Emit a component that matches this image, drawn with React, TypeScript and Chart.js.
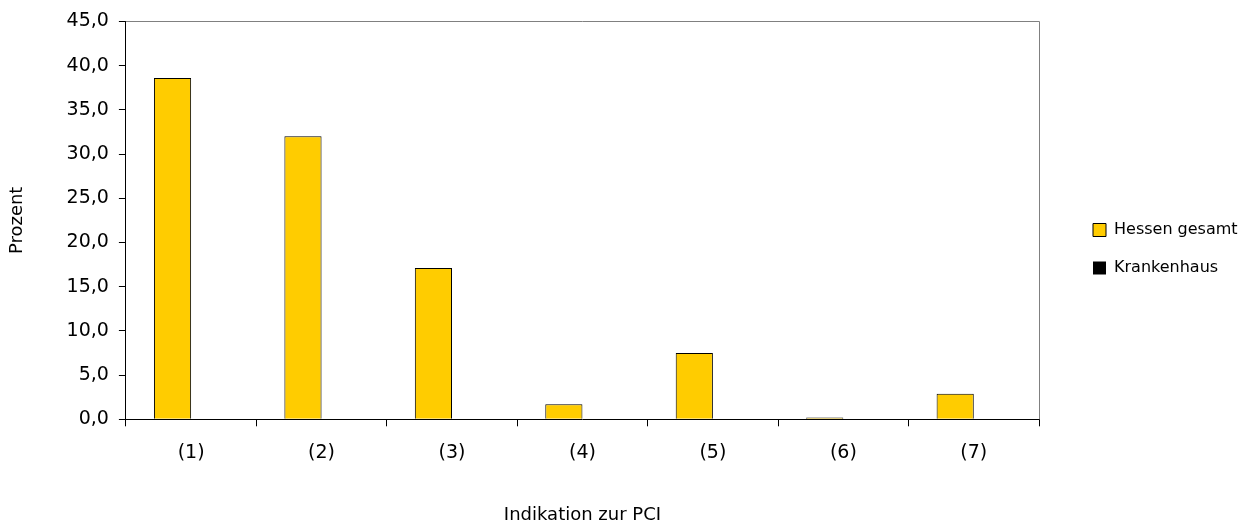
import React, { useEffect, useRef } from 'react';
import { Chart, registerables } from 'chart.js';

Chart.register(...registerables);

const categories = ['(1)', '(2)', '(3)', '(4)', '(5)', '(6)', '(7)'];
const hessenGesamt = [38.6, 32.0, 17.1, 1.7, 7.5, 0.2, 2.9];
const krankenhaus = [0, 0, 0, 0, 0, 0, 0];
const yMin = 0;
const yMax = 45;
const yStep = 5;
const xTitle = 'Indikation zur PCI';
const yTitle = 'Prozent';

const FONT = "'DejaVu Sans', sans-serif";

const legendPlace = {
  id: 'legendPlace',
  beforeInit(chart: any) {
    const legend = chart.legend;
    if (!legend) return;
    const origFit = legend.fit;
    legend.fit = function () {
      origFit.call(this);
      this.width = 213;
    };
  },
  afterLayout(chart: any) {
    const lg = chart.legend;
    if (!lg) return;
    const pad = lg.options.labels.padding;
    const w = lg.width;
    const h = lg.height;
    lg.left = 1093 - pad;
    lg.right = lg.left + w;
    lg.top = 222 - pad;
    lg.bottom = lg.top + h;
  },
};

const frame = {
  id: 'frame',
  beforeDatasetsDraw(chart: any) {
    const { ctx, chartArea } = chart;
    ctx.save();
    ctx.strokeStyle = '#808080';
    ctx.lineWidth = 1;
    ctx.beginPath();
    ctx.moveTo(chartArea.left, Math.round(chartArea.top) + 0.5);
    ctx.lineTo(Math.round(chartArea.right) + 0.5, Math.round(chartArea.top) + 0.5);
    ctx.lineTo(Math.round(chartArea.right) + 0.5, chartArea.bottom);
    ctx.stroke();
    ctx.restore();
  },
};

export default function App() {
  const ref = useRef<HTMLCanvasElement>(null);
  useEffect(() => {
    if (!ref.current) return;
    const chart = new Chart(ref.current, {
      type: 'bar',
      data: {
        labels: categories,
        datasets: [
          {
            label: 'Hessen gesamt',
            data: hessenGesamt,
            backgroundColor: '#FFCC00',
            borderColor: '#000000',
            borderWidth: 1,
            barPercentage: 1,
            categoryPercentage: 0.57,
          },
          {
            label: 'Krankenhaus',
            data: krankenhaus,
            backgroundColor: '#000000',
            borderColor: '#000000',
            borderWidth: 0,
            barPercentage: 1,
            categoryPercentage: 0.57,
          },
        ],
      },
      options: {
        responsive: false,
        animation: false,
        devicePixelRatio: 1,
        layout: { padding: { top: 19, left: 0, right: 0, bottom: 0 } },
        plugins: {
          legend: {
            position: 'right',
            align: 'start',
            labels: {
              color: '#000',
              font: { family: FONT, size: 16 },
              boxWidth: 13,
              boxHeight: 13,
              padding: 22,
            },
          },
          tooltip: { enabled: false },
        },
        scales: {
          x: {
            offset: true,
            grid: { offset: true, drawOnChartArea: false, drawTicks: true, tickLength: 7, color: '#000' },
            border: { color: '#000', width: 1 },
            ticks: { color: '#000', font: { family: FONT, size: 19 }, padding: 15, maxRotation: 0 },
            title: {
              display: true,
              text: xTitle,
              color: '#000',
              font: { family: FONT, size: 18, lineHeight: 1.05 },
              padding: { top: 27, bottom: 0 },
            },
          },
          y: {
            min: yMin,
            max: yMax,
            grid: { drawOnChartArea: false, drawTicks: true, tickLength: 7, color: '#000' },
            border: { color: '#000', width: 1 },
            ticks: {
              stepSize: yStep,
              color: '#000',
              font: { family: FONT, size: 19 },
              padding: 10,
              callback: (v: any) => Number(v).toFixed(1).replace('.', ','),
            },
            title: {
              display: true,
              text: yTitle,
              color: '#000',
              font: { family: FONT, size: 18 },
              padding: { top: 7, bottom: 28 },
            },
          },
        },
      } as any,
      plugins: [legendPlace, frame],
    });
    return () => chart.destroy();
  }, []);
  return (
    <div style={{ position: 'absolute', left: 0, top: 0, width: 1252, height: 525, background: '#fff' }}>
      <canvas ref={ref} width={1252} height={525} style={{ display: 'block' }} />
    </div>
  );
}
